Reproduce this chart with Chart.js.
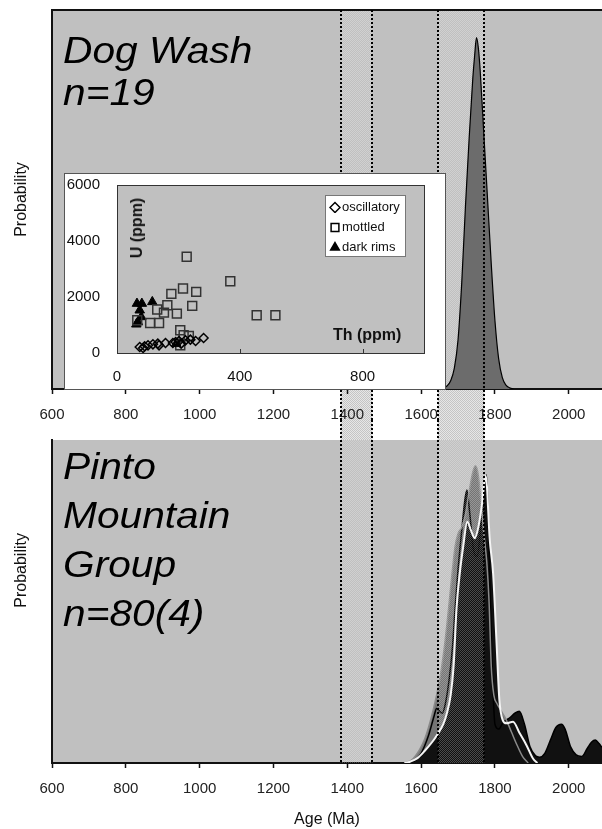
<!DOCTYPE html>
<html>
<head>
<meta charset="utf-8">
<script src="https://cdn.jsdelivr.net/npm/chart.js@4.4.1/dist/chart.umd.min.js"></script>
<style>
  body { margin: 0; background: #fff; font-family: "Liberation Sans", Arial, sans-serif; }
  #wrap { position: relative; width: 602px; height: 829px; overflow: hidden; }
  #topBox { position: absolute; left: 0; top: 0; width: 602px; height: 420px; }
  #botBox { position: absolute; left: 0; top: 420px; width: 602px; height: 409px; }
  #insetBox { position: absolute; left: 64px; top: 173px; width: 380px; height: 215px; background: #fff; border: 1px solid #555; }
  .big { position: absolute; left: 63px; font-style: italic; font-size: 37px; color: #000;
         transform: scaleX(1.1); transform-origin: left top; white-space: nowrap; }
  #topTitle { top: 30px; line-height: 42px; }
  #botTitle { top: 442px; line-height: 49px; }
  .axlab { position: absolute; font-weight: bold; font-size: 16px; color: #111; white-space: nowrap; }
  #uLab { left: 137px; top: 228px; transform: translate(-50%, -50%) rotate(-90deg); }
  #thLab { left: 333px; top: 326px; }
  #insetLegend { position: absolute; left: 325px; top: 195px; width: 81px; height: 62px; background: #fff;
                 border: 1px solid #777; font-size: 13px; color: #111; padding-top: 1px; box-sizing: border-box; }
  #insetLegend .row { height: 20px; line-height: 20px; white-space: nowrap; }
  #insetLegend canvas { vertical-align: middle; margin: 0 1px 2px 3px; }
</style>
</head>
<body>
<div id="wrap">
  <div id="topBox"><canvas id="topChart"></canvas></div>
  <div id="botBox"><canvas id="botChart"></canvas></div>
  <div id="insetBox"><canvas id="insetChart"></canvas></div>
  <div class="axlab" id="uLab">U (ppm)</div>
  <div class="axlab" id="thLab">Th (ppm)</div>
  <div id="insetLegend"></div>
  <div class="big" id="topTitle">Dog Wash<br>n=19</div>
  <div class="big" id="botTitle">Pinto<br>Mountain<br>Group<br>n=80(4)</div>
</div>
<script>
const FONT = '"Liberation Sans", Arial, sans-serif';

// age axis (Ma)
const ageMin = 600;
const ageMax = 2090;
const ageStep = 200;

// shaded age windows
const bandFrom = [1382, 1645];
const bandTo = [1468, 1771];

// Dog Wash probability curve
const dogAges = [1640, 1660, 1670, 1680, 1690, 1700, 1710, 1720, 1730, 1740, 1745, 1750, 1755, 1760, 1770, 1780, 1790, 1800, 1810, 1820, 1830, 1840, 1850];
const dogProb = [0, 0.3, 0.8, 2.2, 5.5, 13, 28, 48, 66, 82, 88, 92.7, 90, 84, 67, 50, 33, 18, 8, 3, 1, 0.3, 0];

// Pinto Mountain Group curves
const grayAges = [1555, 1575, 1595, 1610, 1625, 1640, 1652, 1662, 1670, 1678, 1685, 1692, 1700, 1710, 1720, 1730, 1740, 1747, 1755, 1762, 1770, 1778, 1784, 1790, 1797, 1805, 1815, 1830, 1845, 1860, 1875, 1890];
const grayProb = [0, 1, 4, 7.5, 13, 20, 27, 35, 43, 52, 60, 67, 71, 73, 77, 84, 90, 92, 89, 81, 71, 62, 50, 30, 21, 18.5, 16.5, 13.5, 9.5, 5.5, 2, 0];

const allAges = [1560, 1580, 1600, 1620, 1635, 1642, 1650, 1657, 1665, 1676, 1685, 1692, 1700, 1710, 1718, 1724, 1732, 1742, 1752, 1762, 1770, 1777, 1782, 1787, 1793, 1800, 1810, 1822, 1840, 1855, 1866, 1880, 1895, 1910, 1921, 1935, 1950, 1965, 1980, 1990, 2005, 2020, 2035, 2050, 2062, 2072, 2082, 2090];
const allProb = [0, 0.5, 3, 8.5, 14.5, 16.9, 16, 15.4, 18, 26, 36, 48, 60, 72, 81, 84.5, 77, 66, 64, 74, 84, 89.2, 76, 52, 28, 12, 10.5, 12.5, 14, 15.5, 16, 12, 5, 2.2, 1.8, 3, 7, 11, 12, 10.5, 5, 2.5, 2, 4.5, 6.5, 7.1, 6, 4.8];

const whiteAges = [1555, 1570, 1590, 1610, 1630, 1645, 1660, 1670, 1680, 1688, 1696, 1705, 1714, 1725, 1735, 1745, 1755, 1764, 1775, 1786, 1795, 1804, 1812, 1821, 1831, 1849, 1867, 1885, 1903, 1915];
const whiteProb = [0, 0.4, 1.5, 3.8, 6.5, 9, 12, 15.5, 21, 30, 48, 59, 67, 74.7, 72, 69.6, 73, 79.4, 88.9, 69, 58.7, 38, 19.5, 13.3, 12.3, 12.8, 9.2, 5.6, 1.4, 0];

// inset: Th vs U (ppm)
const groupNames = ['oscillatory', 'mottled', 'dark rims'];
const oscTh = [74, 85, 90, 101, 117, 133, 137, 158, 182, 191, 202, 209, 223, 239, 256, 282];
const oscU = [215, 179, 239, 274, 310, 334, 274, 358, 358, 394, 429, 334, 453, 477, 429, 537];
const motTh = [227, 369, 215, 258, 177, 131, 164, 245, 153, 195, 137, 108, 66, 455, 516, 206, 217, 234, 206];
const motU = [3435, 2565, 2302, 2183, 2111, 1551, 1706, 1682, 1443, 1407, 1074, 1074, 1169, 1348, 1348, 811, 632, 608, 274];
const rimTh = [65, 81, 115, 74, 79, 68, 63, 193];
const rimU = [1765, 1765, 1825, 1527, 1288, 1109, 1026, 334];

const toXY = (xs, ys) => xs.map((x, i) => ({ x: x, y: ys[i] }));

function checker(ctx, a, b) {
  const c = document.createElement('canvas');
  c.width = 2; c.height = 2;
  const g = c.getContext('2d');
  g.fillStyle = a; g.fillRect(0, 0, 1, 1); g.fillRect(1, 1, 1, 1);
  if (b) { g.fillStyle = b; g.fillRect(1, 0, 1, 1); g.fillRect(0, 1, 1, 1); }
  return ctx.createPattern(c, 'repeat');
}

function fillBands(chart, y0, y1, pattern) {
  const x = chart.scales.x, ctx = chart.ctx;
  ctx.save();
  ctx.fillStyle = pattern;
  bandFrom.forEach((f, i) => {
    const l = x.getPixelForValue(f), r = x.getPixelForValue(bandTo[i]);
    ctx.fillRect(l, y0, r - l, y1 - y0);
  });
  ctx.restore();
}

function bandEdges(chart, y0, y1) {
  const x = chart.scales.x, ctx = chart.ctx;
  ctx.save();
  ctx.strokeStyle = '#000';
  ctx.lineWidth = 2;
  ctx.setLineDash([2, 2]);
  bandFrom.forEach((f, i) => {
    [f, bandTo[i]].forEach(v => {
      const px = Math.round(x.getPixelForValue(v));
      ctx.beginPath();
      ctx.moveTo(px, y0);
      ctx.lineTo(px, y1);
      ctx.stroke();
    });
  });
  ctx.restore();
}

const plain = { useGrouping: false };

function ageAxis(h, title) {
  return {
    type: 'linear', min: ageMin, max: ageMax,
    ticks: { stepSize: ageStep, includeBounds: false, autoSkip: false, maxRotation: 0, format: plain,
             font: { family: FONT, size: 15 }, color: '#222', padding: 12 },
    grid: { display: true, drawOnChartArea: false, drawTicks: true, tickLength: 5, tickColor: '#111', tickWidth: 1.5 },
    border: { display: true, color: '#111', width: 2 },
    title: title ? { display: true, text: title, font: { family: FONT, size: 16 }, color: '#111', padding: { top: 0, bottom: 0 } } : { display: false },
    afterFit(s) { s.height = h; }
  };
}

function probAxis(text) {
  return {
    min: 0, max: 100,
    ticks: { display: false },
    grid: { display: false },
    border: { display: true, color: '#111', width: 2 },
    title: { display: true, text: text, font: { family: FONT, size: 16 }, color: '#111', padding: { top: 12, bottom: 0 } },
    afterFit(s) { s.width = 52; }
  };
}

const common = {
  responsive: true, maintainAspectRatio: false, animation: false,
  plugins: { legend: { display: false }, tooltip: { enabled: false } },
  elements: { point: { radius: 0 } }
};

// top panel
const topPanel = {
  id: 'topPanel',
  beforeDraw(chart) {
    const a = chart.chartArea, ctx = chart.ctx;
    ctx.save();
    ctx.fillStyle = '#c0c0c0';
    ctx.fillRect(a.left, a.top, a.right - a.left, a.bottom - a.top);
    ctx.restore();
    fillBands(chart, a.top, a.bottom, checker(ctx, 'rgba(255,255,255,0.28)'));
    fillBands(chart, a.bottom, chart.height, checker(ctx, '#c4c4c4', '#e6e6e6'));
  },
  afterDraw(chart) {
    const a = chart.chartArea, ctx = chart.ctx;
    ctx.save();
    ctx.strokeStyle = '#111';
    ctx.lineWidth = 2;
    ctx.beginPath();
    ctx.moveTo(a.left - 1, a.top);
    ctx.lineTo(a.right, a.top);
    ctx.stroke();
    ctx.restore();
    bandEdges(chart, a.top, chart.height);
  }
};

new Chart(document.getElementById('topChart'), {
  type: 'line',
  data: {
    datasets: [{
      data: toXY(dogAges, dogProb),
      borderColor: '#000', borderWidth: 1.2,
      backgroundColor: '#6c6c6c', fill: 'origin',
      cubicInterpolationMode: 'monotone'
    }]
  },
  options: Object.assign({}, common, {
    layout: { padding: { top: 10, right: 0, left: 0, bottom: 0 } },
    scales: { x: ageAxis(31), y: probAxis('Probability') }
  }),
  plugins: [topPanel]
});

// bottom panel
const botPanel = {
  id: 'botPanel',
  beforeDraw(chart) {
    const a = chart.chartArea, ctx = chart.ctx;
    ctx.save();
    ctx.fillStyle = '#c0c0c0';
    ctx.fillRect(a.left, a.top, a.right - a.left, a.bottom - a.top);
    ctx.restore();
    fillBands(chart, 0, a.top, checker(ctx, '#c4c4c4', '#e6e6e6'));
  },
  afterDatasetsDraw(chart) {
    const a = chart.chartArea;
    fillBands(chart, a.top, a.bottom, checker(chart.ctx, 'rgba(255,255,255,0.25)'));
  },
  afterDraw(chart) {
    bandEdges(chart, 0, chart.chartArea.bottom);
  }
};

const curve = (xs, ys, extra) => Object.assign({
  data: toXY(xs, ys), cubicInterpolationMode: 'monotone', pointRadius: 0
}, extra);

new Chart(document.getElementById('botChart'), {
  type: 'line',
  data: {
    datasets: [
      curve(whiteAges, whiteProb, { borderColor: '#f4f4f4', borderWidth: 2, fill: false }),
      curve(grayAges, grayProb, { borderColor: '#8a8a8a', borderWidth: 1.5, fill: false }),
      curve(allAges, allProb, { borderColor: '#000', borderWidth: 1.5, fill: false }),
      curve(whiteAges, whiteProb, { borderWidth: 0, backgroundColor: '#111', fill: 'origin' }),
      curve(grayAges, grayProb, { borderWidth: 0, backgroundColor: '#747474', fill: 'origin' }),
      curve(allAges, allProb, { borderWidth: 0, backgroundColor: '#111', fill: 'origin' })
    ]
  },
  options: Object.assign({}, common, {
    layout: { padding: { top: 20, right: 0, left: 0, bottom: 0 } },
    scales: {
      x: ageAxis(66, 'Age (Ma)'),
      y: probAxis('\u00a0'.repeat(14) + 'Probability')
    }
  }),
  plugins: [botPanel]
});

// inset scatter
const insetPanel = {
  id: 'insetPanel',
  beforeDraw(chart) {
    const a = chart.chartArea, ctx = chart.ctx;
    ctx.save();
    ctx.fillStyle = '#c0c0c0';
    ctx.fillRect(a.left, a.top, a.right - a.left, a.bottom - a.top);
    ctx.restore();
  },
  afterDraw(chart) {
    const a = chart.chartArea, ctx = chart.ctx, x = chart.scales.x;
    ctx.save();
    ctx.strokeStyle = '#333';
    ctx.lineWidth = 1;
    ctx.strokeRect(Math.round(a.left) + 0.5, Math.round(a.top) + 0.5, Math.round(a.right - a.left), Math.round(a.bottom - a.top));
    x.ticks.forEach(t => {
      const px = Math.round(x.getPixelForValue(t.value)) + 0.5;
      ctx.beginPath();
      ctx.moveTo(px, a.bottom);
      ctx.lineTo(px, a.bottom - 4);
      ctx.stroke();
    });
    ctx.restore();
  }
};

const insetChart = new Chart(document.getElementById('insetChart'), {
  type: 'scatter',
  data: {
    datasets: [
      { label: groupNames[0], data: toXY(oscTh, oscU), pointStyle: 'rectRot', pointRadius: 4.5,
        backgroundColor: 'rgba(0,0,0,0)', borderColor: '#000', borderWidth: 1.5 },
      { label: groupNames[1], data: toXY(motTh, motU), pointStyle: 'rect', pointRadius: 6.3,
        backgroundColor: 'rgba(0,0,0,0)', borderColor: '#333', borderWidth: 1.5 },
      { label: groupNames[2], data: toXY(rimTh, rimU), pointStyle: 'triangle', pointRadius: 5.5,
        backgroundColor: '#000', borderColor: '#000', borderWidth: 1 }
    ]
  },
  options: Object.assign({}, common, {
    layout: { padding: { top: 11, right: 21, left: 0, bottom: 0 } },
    scales: {
      x: {
        min: 0, max: 1000,
        ticks: { stepSize: 400, includeBounds: false, format: plain, font: { family: FONT, size: 15 }, color: '#111', padding: 7 },
        grid: { display: false }, border: { display: false },
        afterFit(s) { s.height = 36; }
      },
      y: {
        min: 0, max: 6000,
        ticks: { stepSize: 2000, format: plain, font: { family: FONT, size: 15 }, color: '#111', padding: 17 },
        grid: { display: false, drawTicks: false }, border: { display: false },
        afterFit(s) { s.width = 52; s.paddingTop = 0; s.paddingBottom = 0; }
      }
    }
  }),
  plugins: [insetPanel]
});

// legend for the inset, built from its datasets
const legendBox = document.getElementById('insetLegend');
insetChart.data.datasets.forEach(ds => {
  const row = document.createElement('div');
  row.className = 'row';
  const c = document.createElement('canvas');
  c.width = 12; c.height = 12;
  const g = c.getContext('2d');
  g.fillStyle = ds.pointStyle === 'triangle' ? '#000' : '#fff';
  g.strokeStyle = '#000';
  g.lineWidth = 1.5;
  if (Chart.helpers && Chart.helpers.drawPoint) {
    Chart.helpers.drawPoint(g, { pointStyle: ds.pointStyle, radius: ds.pointStyle === 'rect' ? 5.5 : 5, rotation: 0, borderWidth: 1.5 }, 6, 6.5);
  }
  row.appendChild(c);
  row.appendChild(document.createTextNode(ds.label));
  legendBox.appendChild(row);
});
</script>
</body>
</html>
